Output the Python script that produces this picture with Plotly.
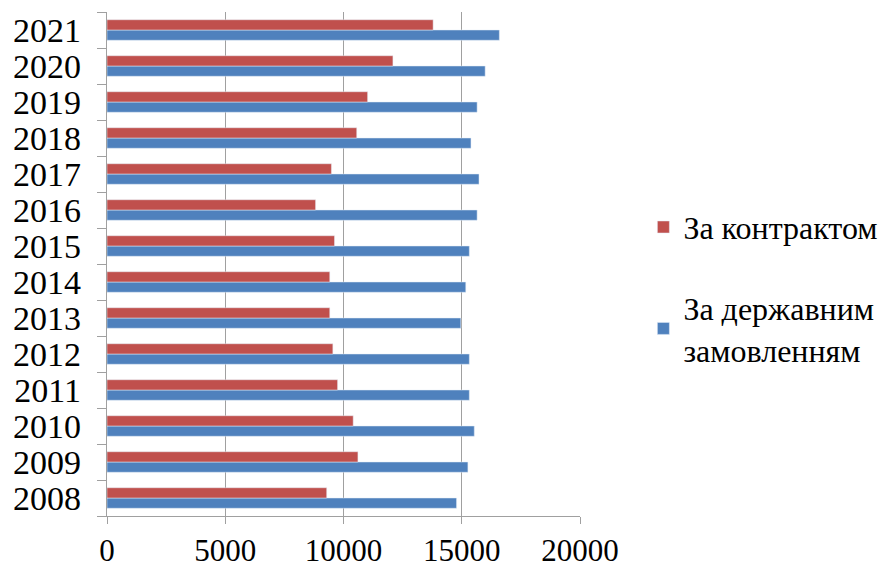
import plotly.graph_objects as go

years = ["2008", "2009", "2010", "2011", "2012", "2013", "2014",
         "2015", "2016", "2017", "2018", "2019", "2020", "2021"]
contract = [9290, 10610, 10410, 9750, 9550, 9420, 9420,
            9620, 8820, 9490, 10560, 11020, 12090, 13790]
state_order = [14780, 15260, 15530, 15320, 15320, 14960, 15170,
               15320, 15650, 15730, 15390, 15650, 15990, 16590]
x_ticks = [0, 5000, 10000, 15000, 20000]

FONT = "Liberation Serif, DejaVu Serif, serif"

fig = go.Figure()
fig.add_trace(go.Bar(
    y=years, x=state_order, orientation="h",
    name="За державним<br>замовленням",
    marker=dict(color="#4F81BD"),
    legendrank=2, legendgroup="b",
))
fig.add_trace(go.Bar(
    y=years, x=contract, orientation="h",
    name="За контрактом",
    marker=dict(color="#C0504D"),
    legendrank=1, legendgroup="a",
))

fig.update_layout(
    width=886, height=567,
    margin=dict(l=107, r=306, t=12, b=51, autoexpand=False),
    paper_bgcolor="white", plot_bgcolor="white",
    barmode="group", bargap=0.43, bargroupgap=0,
    font=dict(family=FONT, color="black", size=30),
    legend=dict(
        x=1.134, xanchor="left", y=0.452, yanchor="middle",
        font=dict(family=FONT, size=32, color="black"),
        tracegroupgap=36, itemwidth=30,
        bgcolor="rgba(0,0,0,0)",
    ),
    showlegend=True,
)
fig.update_xaxes(
    range=[0, 20000], tickmode="array", tickvals=x_ticks,
    ticktext=[str(v) for v in x_ticks],
    showgrid=True, gridcolor="#A0A0A0", gridwidth=1.3,
    showline=True, linecolor="#A0A0A0", linewidth=1.3,
    ticks="outside", ticklen=7, tickcolor="#A0A0A0",
    tickfont=dict(family=FONT, size=31, color="black"),
    zeroline=False, automargin=False, fixedrange=True,
)
fig.update_yaxes(
    type="category", categoryorder="array", categoryarray=years,
    tickmode="array", tickvals=years, ticktext=years,
    showgrid=False, showline=True, linecolor="#A0A0A0", linewidth=1.3,
    ticks="outside", ticklen=9, tickcolor="#A0A0A0", tickson="boundaries",
    tickfont=dict(family=FONT, size=34, color="black"),
    ticklabelstandoff=18, automargin=False, fixedrange=True,
)
fig.write_html("out.html")
